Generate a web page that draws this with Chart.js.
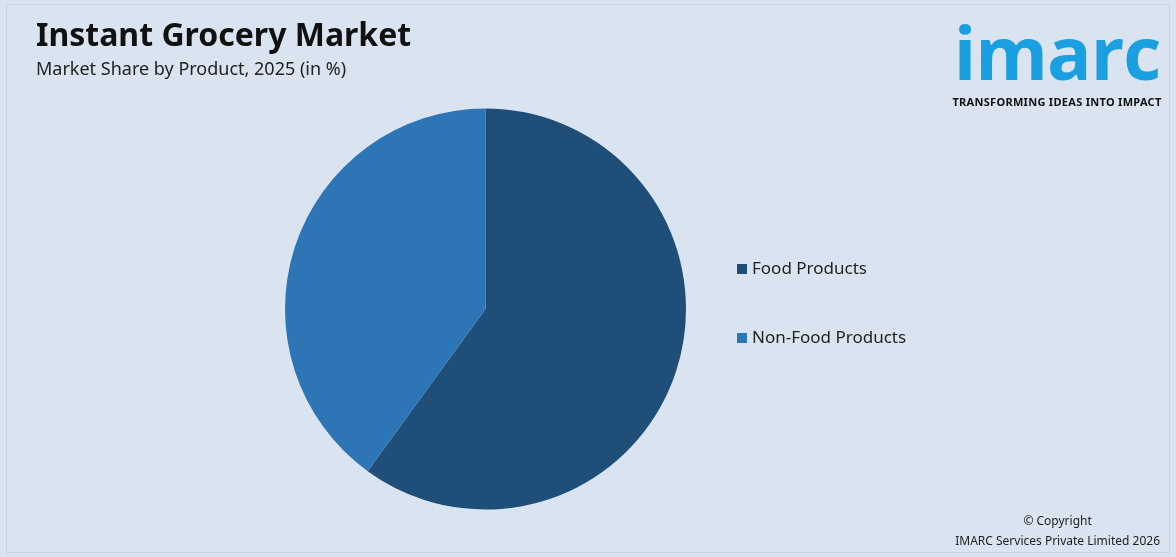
<!DOCTYPE html>
<html>
<head>
<meta charset="utf-8">
<script src="https://cdn.jsdelivr.net/npm/chart.js@4.4.1/dist/chart.umd.min.js"></script>
<style>
  html, body { margin: 0; padding: 0; }
  body { width: 1176px; height: 557px; background: #dae4f1; position: relative; font-family: "Noto Sans", Arial, sans-serif; overflow: hidden; }
  .frame { position: absolute; left: 6px; top: 4px; right: 6px; bottom: 4px; border: 1px solid #c9d5e5; }
  h1 { position: absolute; left: 36px; top: 12px; margin: 0; font-size: 32px; font-weight: 700; color: #111; }
  .sub { position: absolute; left: 36px; top: 56px; font-size: 18px; color: #222; }
  .logo { position: absolute; right: 6px; top: 10px; width: 226px; text-align: center; }
  .logo .word { font-family: "Open Sans", Arial, sans-serif; font-size: 74px; font-weight: 700; color: #1a9fe0; line-height: 84px; letter-spacing: -1px; }
  .logo .tag { font-size: 11px; font-weight: 700; color: #111; letter-spacing: 0.3px; margin-top: 0px; }
  .copy { position: absolute; right: 16px; bottom: 6px; text-align: right; font-size: 12px; color: #222; line-height: 20px; }
  .copy div:first-child { text-align: center; }
  #wrap { position: absolute; left: 0; top: 0; width: 1176px; height: 557px; }
</style>
</head>
<body>
<div class="frame"></div>
<div id="wrap"><canvas id="c" width="1176" height="557"></canvas></div>
<h1>Instant Grocery Market</h1>
<div class="sub">Market Share by Product, 2025 (in %)</div>
<div class="logo"><div class="word">imarc</div><div class="tag">TRANSFORMING IDEAS INTO IMPACT</div></div>
<div class="copy"><div>© Copyright</div><div>IMARC Services Private Limited 2026</div></div>
<script>
const categories = ['Food Products', 'Non-Food Products'];
const shares = [60, 40];
const colors = ['#1f4e79', '#2e75b6'];

const legendPlugin = {
  id: 'sideLegend',
  afterDraw(chart) {
    const ctx = chart.ctx;
    ctx.save();
    ctx.font = '17px "Noto Sans", Arial, sans-serif';
    ctx.textBaseline = 'middle';
    categories.forEach((label, i) => {
      const y = 269 + i * 69;
      ctx.fillStyle = colors[i];
      ctx.fillRect(737, y - 5, 10, 10);
      ctx.fillStyle = '#222';
      ctx.fillText(label, 752, y);
    });
    ctx.restore();
  }
};

new Chart(document.getElementById('c'), {
  type: 'pie',
  data: {
    labels: categories,
    datasets: [{ data: shares, backgroundColor: colors, borderWidth: 0 }]
  },
  options: {
    responsive: false,
    animation: false,
    layout: { padding: { left: 285, right: 490, top: 108, bottom: 47 } },
    plugins: { legend: { display: false }, tooltip: { enabled: false } }
  },
  plugins: [legendPlugin]
});
</script>
</body>
</html>
